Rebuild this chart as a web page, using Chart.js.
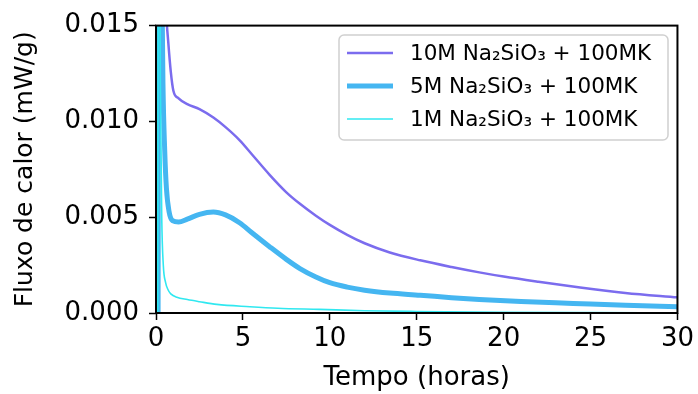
<!DOCTYPE html>
<html lang="pt">
<head>
<meta charset="utf-8">
<title>Fluxo de calor</title>
<script src="https://cdn.jsdelivr.net/npm/chart.js@4.4.1/dist/chart.umd.min.js"></script>
<style>
  body { margin: 0; background: #fff; }
  #grafico { display: block; }
</style>
</head>
<body>
<canvas id="grafico" width="698" height="394"></canvas>
<script>
// dados (tempo em horas, fluxo em mW/g)
const tempo10M = [0.15, 0.2, 0.3, 0.45, 0.6, 0.7, 0.85, 1.0, 1.3, 1.8, 2.5, 3.3, 4.0, 4.83, 5.5, 6.55, 7.5, 8.28, 9.2, 10, 11, 12, 13.45, 15.2, 17, 18.6, 20, 22, 24.4, 27, 30];
const fluxo10M = [0, 0.03, 0.028, 0.02, 0.0155, 0.0142, 0.0126, 0.0116, 0.0112, 0.0109, 0.01064, 0.0102, 0.0097, 0.009, 0.0083, 0.0072, 0.0063, 0.0057, 0.00508, 0.0046, 0.00408, 0.00364, 0.00316, 0.00275, 0.0024, 0.00212, 0.0019, 0.00163, 0.00133, 0.00105, 0.00082];

const tempo5M = [0.12, 0.18, 0.28, 0.4, 0.5, 0.6, 0.75, 0.95, 1.3, 1.8, 2.5, 3.3, 4.0, 4.83, 5.5, 6.55, 7.5, 8.28, 9.2, 10, 11, 12, 13.45, 15.2, 17, 18.6, 21, 24, 27, 30];
const fluxo5M = [0, 0.035, 0.022, 0.012, 0.0085, 0.0065, 0.0053, 0.00482, 0.00475, 0.0049, 0.00515, 0.00527, 0.00512, 0.0047, 0.0042, 0.00345, 0.0028, 0.00232, 0.00188, 0.00158, 0.00135, 0.00119, 0.00104, 0.00093, 0.0008, 0.00071, 0.0006, 0.0005, 0.0004, 0.00033];

const tempo1M = [0.1, 0.16, 0.25, 0.33, 0.42, 0.55, 0.7, 0.85, 1.2, 1.8, 2.5, 3.5, 5.4, 7, 9.4, 12, 15, 20, 25, 30];
const fluxo1M = [0, 0.03, 0.012, 0.005, 0.0025, 0.0016, 0.0012, 0.001, 0.00082, 0.0007, 0.00059, 0.00045, 0.00033, 0.00025, 0.00019, 0.00012, 0.00008, 0.00004, 0.00002, 0.00001];

const rotulos = ['10M Na₂SiO₃ + 100MK', '5M Na₂SiO₃ + 100MK', '1M Na₂SiO₃ + 100MK'];
const ticksX = [0, 5, 10, 15, 20, 25, 30];
const ticksY = [0, 0.005, 0.010, 0.015];

const fonte = 'DejaVu Sans';

const pontos = (xs, ys) => xs.map((x, i) => ({ x, y: ys[i] }));

const serie = (label, data, cor, largura, ordem) => ({
    label,
    data,
    borderColor: cor,
    backgroundColor: cor,
    borderWidth: largura,
    pointRadius: 0,
    cubicInterpolationMode: 'monotone',
    clip: 0,
    order: ordem
});

// moldura completa (4 lados) como no matplotlib
const moldura = {
    id: 'moldura',
    afterDatasetsDraw(chart) {
        const { ctx, chartArea: a } = chart;
        ctx.save();
        ctx.strokeStyle = '#000';
        ctx.lineWidth = 2;
        ctx.strokeRect(a.left, a.top, a.right - a.left, a.bottom - a.top);
        ctx.restore();
    }
};

// legenda dentro da area do grafico
const legenda = {
    id: 'legenda',
    afterDraw(chart) {
        const { ctx } = chart;
        const x = 339, y = 35, w = 329, h = 105;
        ctx.save();
        ctx.beginPath();
        ctx.roundRect(x, y, w, h, 5);
        ctx.fillStyle = 'rgba(255,255,255,0.9)';
        ctx.fill();
        ctx.strokeStyle = '#d0d0d0';
        ctx.lineWidth = 1.5;
        ctx.stroke();

        ctx.font = '21.5px "' + fonte + '"';
        ctx.textBaseline = 'middle';
        ctx.fillStyle = '#000';
        chart.data.datasets.forEach((ds, i) => {
            const ly = 53 + i * 33;
            ctx.beginPath();
            ctx.moveTo(347, ly);
            ctx.lineTo(393, ly);
            ctx.strokeStyle = ds.borderColor;
            ctx.lineWidth = ds.borderWidth;
            ctx.stroke();
            ctx.fillText(ds.label, 410, ly + 1);
        });
        ctx.restore();
    }
};

const ctx = document.getElementById('grafico').getContext('2d');
const grafico = new Chart(ctx, {
    type: 'line',
    data: {
        datasets: [
            serie(rotulos[0], pontos(tempo10M, fluxo10M), '#7b6cee', 2.5, 3),
            serie(rotulos[1], pontos(tempo5M, fluxo5M), '#45b6f1', 5, 2),
            serie(rotulos[2], pontos(tempo1M, fluxo1M), '#30e8f0', 1.6, 1)
        ]
    },
    options: {
        responsive: false,
        animation: false,
        devicePixelRatio: 1,
        layout: { padding: { left: 0, top: 25, right: 19, bottom: 0 } },
        plugins: { legend: { display: false }, tooltip: { enabled: false } },
        scales: {
            x: {
                type: 'linear',
                min: 0,
                max: 30,
                afterFit: s => { s.height = 81; },
                afterBuildTicks: s => { s.ticks = ticksX.map(v => ({ value: v })); },
                ticks: { color: '#000', font: { family: fonte, size: 26 }, padding: 4, maxRotation: 0 },
                grid: { drawOnChartArea: false, tickLength: 7, tickColor: '#000', tickWidth: 1.5 },
                border: { display: false },
                title: { display: true, text: 'Tempo (horas)', color: '#000', font: { family: fonte, size: 26 }, padding: { top: 0, bottom: 0 } }
            },
            y: {
                min: 0,
                max: 0.015,
                afterFit: s => { s.width = 156; },
                afterBuildTicks: s => { s.ticks = ticksY.map(v => ({ value: v })); },
                ticks: { color: '#000', font: { family: fonte, size: 26 }, padding: 10, callback: v => v.toFixed(3) },
                grid: { drawOnChartArea: false, tickLength: 7, tickColor: '#000', tickWidth: 1.5 },
                border: { display: false },
                title: { display: true, text: 'Fluxo de calor (mW/g)', color: '#000', font: { family: fonte, size: 25 }, padding: { top: 10, bottom: 0 } }
            }
        }
    },
    plugins: [moldura, legenda]
});
</script>
</body>
</html>
